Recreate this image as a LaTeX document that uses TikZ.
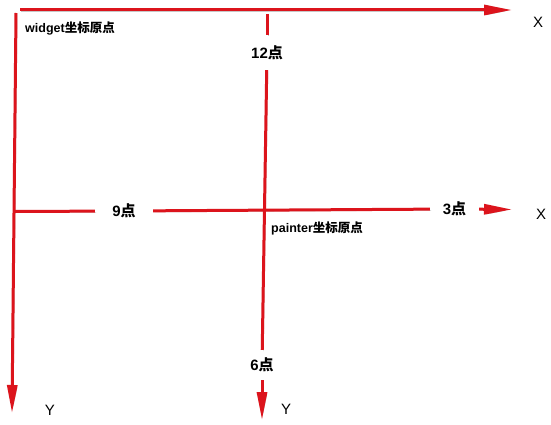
\documentclass[tikz,border=0pt]{standalone}
\usepackage{fontspec}
\setmainfont{Liberation Sans}
\newfontfamily\cjk{Noto Sans CJK SC}
\usepackage{tikz}
\usetikzlibrary{arrows.meta, positioning}
\definecolor{axisred}{RGB}{220,20,28}

\begin{document}
\begin{tikzpicture}[x=1pt,y=-1pt,
    axis/.style={draw=axisred, line width=3pt,
        preaction={draw=black!22, transform canvas={shift={(1.2pt,-1.2pt)}}}},
    tip/.style={-{Triangle[length=28pt,width=10pt]}},
    hour/.style={inner sep=0pt, font=\bfseries\fontsize{15}{17}\selectfont},
    origin/.style={inner sep=0pt, anchor=west, font=\bfseries\fontsize{12.5}{14}\selectfont},
    axlabel/.style={inner sep=0pt, font=\fontsize{15}{17}\selectfont}]
\useasboundingbox[fill=white] (0,0) rectangle (551,425);
% widget axes
\coordinate (wx0) at (20,10);
\coordinate (wx1) at (512,10);
\coordinate (wy0) at (16,13);
\coordinate (wy1) at (12,413);
\draw[axis, tip] (wx0) -- (wx1);
\draw[axis, tip] (wy0) -- (wy1);
% painter axes, the hour nodes cut gaps in the lines
\coordinate (px0) at (15,211.5);
\coordinate (px1) at (512,209.5);
\coordinate (py0) at (267,14);
\coordinate (py1) at (262,420);
\node[hour, minimum width=58pt, minimum height=16pt] (nine) at (124,211) {9{\cjk 点}};
\node[hour, minimum width=49pt, minimum height=16pt] (three) at (454.5,209) {3{\cjk 点}};
\node[hour, minimum width=36pt, minimum height=35pt] (twelve) at (267,52.5) {12{\cjk 点}};
\node[hour, minimum width=30pt, minimum height=30pt] (six) at (262,365) {6{\cjk 点}};
\draw[axis] (px0) -- (nine);
\draw[axis] (nine) -- (three);
\draw[axis, tip] (three) -- (px1);
\draw[axis] (py0) -- (twelve);
\draw[axis] (twelve) -- (six);
\draw[axis, tip] (six) -- (py1);
% texts
\node[origin] (wlabel) at (25,28) {widget{\cjk 坐标原点}};
\node[origin] (plabel) at (271,228) {painter{\cjk 坐标原点}};
\node[axlabel] (wxl) at (538,22) {X};
\node[axlabel] (pxl) at (541,214) {X};
\node[axlabel] (wyl) at (50,410) {Y};
\node[axlabel] (pyl) at (286,409) {Y};
\end{tikzpicture}
\end{document}
